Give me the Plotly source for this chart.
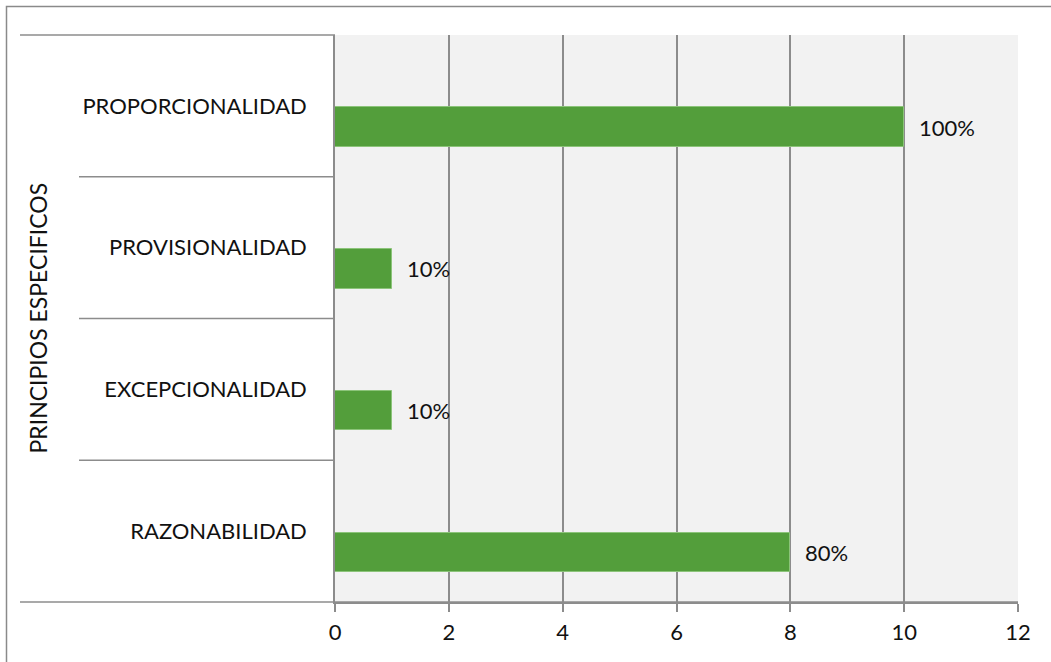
import plotly.graph_objects as go

categories = ["RAZONABILIDAD", "EXCEPCIONALIDAD", "PROVISIONALIDAD", "PROPORCIONALIDAD"]
values = [8, 1, 1, 10]
value_labels = ["80%", "10%", "10%", "100%"]
x_ticks = [0, 2, 4, 6, 8, 10, 12]
axis_title = "PRINCIPIOS ESPECIFICOS"

FONT = "Lato"
FS = 22
GRID = "#8c8c8c"
BAR = "#539e3b"
TXT = "#111111"

W, H = 1051, 662
ML, MR, MT, MB = 335, 33, 35, 60
pw = W - ML - MR
ph = H - MT - MB


def px_x(x):
    return (x - ML) / pw


def px_y(y):
    return (H - MB - y) / ph


BAR_W = 0.28
BAR_OFF = -0.29

fig = go.Figure()
fig.add_trace(go.Bar(
    y=categories, x=values, orientation="h",
    width=BAR_W, offset=BAR_OFF,
    marker=dict(color=BAR, line=dict(color="#8cc47a", width=1)),
    hoverinfo="skip", showlegend=False,
))

annotations = []
for i, (v, t) in enumerate(zip(values, value_labels)):
    annotations.append(dict(
        x=v, y=i + BAR_OFF + BAR_W / 2, xref="x", yref="y", text=t,
        showarrow=False, xanchor="left", yanchor="middle", xshift=13,
        font=dict(family=FONT, size=FS, color=TXT),
    ))
annotations.append(dict(
    x=px_x(37), y=0.5, xref="paper", yref="paper", text=axis_title,
    textangle=-90, showarrow=False, xanchor="center", yanchor="middle",
    font=dict(family=FONT, size=23, color=TXT),
))

shapes = []
# outer border (extends off canvas right/bottom)
shapes.append(dict(type="rect", xref="paper", yref="paper",
                   x0=px_x(6.5), x1=1.3, y0=-0.3, y1=px_y(6.5),
                   line=dict(color="#8a8a8a", width=1.5), fillcolor="rgba(0,0,0,0)",
                   layer="below"))
# top line of category area
shapes.append(dict(type="line", xref="paper", yref="paper",
                   x0=px_x(20), x1=0, y0=1, y1=1,
                   line=dict(color=GRID, width=1.5)))
# bottom axis line extended left
shapes.append(dict(type="line", xref="paper", yref="paper",
                   x0=px_x(20), x1=1, y0=0, y1=0,
                   line=dict(color=GRID, width=1.5)))
# category separators
for k in range(len(categories) - 1):
    shapes.append(dict(type="line", xref="paper", yref="y",
                       x0=px_x(79), x1=0, y0=k + 0.5, y1=k + 0.5,
                       line=dict(color=GRID, width=1.5)))

fig.update_layout(
    width=W, height=H,
    margin=dict(l=ML, r=MR, t=MT, b=MB, pad=0),
    paper_bgcolor="white", plot_bgcolor="#f2f2f2",
    font=dict(family=FONT, size=FS, color=TXT),
    xaxis=dict(range=[0, 12], tickvals=x_ticks, showgrid=True, gridcolor=GRID,
               gridwidth=1.5, zeroline=False, ticks="outside", ticklen=8,
               tickcolor=GRID, tickwidth=1.5, showline=True, linecolor=GRID,
               linewidth=1.5, mirror=False, fixedrange=True,
               ticklabelstandoff=2,
               tickfont=dict(family=FONT, size=FS, color=TXT)),
    yaxis=dict(type="category", categoryorder="array", categoryarray=categories,
               range=[-0.5, 3.5], showgrid=False, zeroline=False,
               showline=True, linecolor=GRID, linewidth=1.5,
               ticks="outside", ticklen=22, tickcolor="rgba(0,0,0,0)",
               fixedrange=True,
               tickfont=dict(family=FONT, size=FS, color=TXT)),
    annotations=annotations, shapes=shapes,
    bargap=0,
)

fig.write_html("out.html", config={"displayModeBar": False},
               post_script="document.body.style.margin='0px';")
